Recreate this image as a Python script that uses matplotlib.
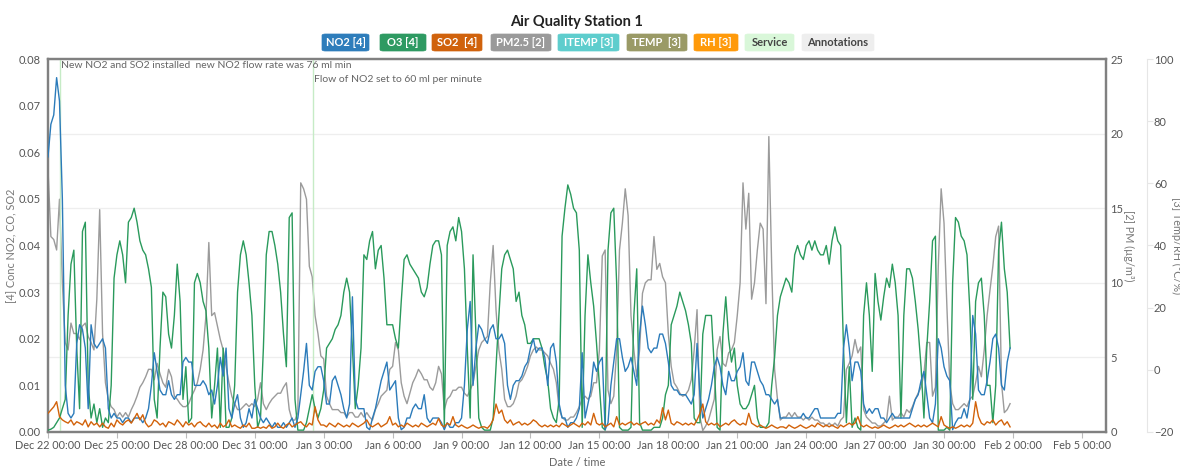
import numpy as np
import pandas as pd
import matplotlib
matplotlib.use('Agg')
import matplotlib.pyplot as plt
import matplotlib.dates as mdates
from matplotlib.patches import FancyBboxPatch

plt.rcParams['font.family'] = ['Lato', 'DejaVu Sans']

# 3-hourly readings from Dec 22 00:00, one row per day
no2_ppb = [
    59, 66, 68, 76, 71, 50, 10, 4,
    3, 4, 19, 23, 22, 18, 5, 23,
    19, 18, 19, 20, 18, 5, 3, 4,
    3, 3, 2, 3, 3, 2, 3, 3,
    3, 2, 3, 5, 10, 17, 13, 9,
    8, 8, 11, 8, 7, 8, 8, 15,
    16, 15, 15, 10, 10, 10, 11, 10,
    8, 9, 6, 10, 16, 12, 18, 5,
    3, 6, 8, 3, 1, 2, 5, 3,
    7, 5, 3, 2, 3, 2, 1, 2,
    1, 1, 2, 1, 2, 3, 1, 3,
    8, 13, 19, 10, 9, 13, 14, 14,
    11, 6, 6, 11, 12, 10, 8, 5,
    3, 6, 29, 7, 5, 5, 5, 1,
    0.5, 3, 5, 8, 11, 13, 15, 9,
    10, 11, 3, 0.5, 1, 3, 3, 5,
    6, 5, 5, 8, 3, 2, 3, 3,
    3, 2, 0.5, 2, 1, 1, 2, 2,
    3, 10, 22, 28, 10, 18, 23, 22,
    20, 19, 22, 23, 20, 20, 21, 19,
    10, 7, 10, 11, 11, 12, 14, 15,
    18, 20, 17, 18, 18, 16, 10, 18,
    19, 15, 6, 3, 3, 1, 2, 2,
    3, 5, 17, 3, 6, 9, 15, 13,
    15, 16, 0.5, 2, 10, 15, 20, 20,
    16, 13, 14, 16, 13, 10, 21, 27,
    23, 18, 17, 18, 18, 21, 21, 19,
    15, 10, 9, 9, 8, 8, 8, 7,
    6, 8, 19, 8, 3, 5, 7, 10,
    14, 16, 14, 10, 8, 13, 11, 11,
    13, 14, 17, 11, 10, 15, 15, 13,
    11, 10, 8, 8, 7, 6, 7, 3,
    3, 3, 3, 3, 3, 3, 3, 4,
    3, 3, 4, 5, 5, 3, 3, 3,
    3, 3, 3, 4, 4, 18, 23, 18,
    11, 15, 15, 13, 6, 4, 5, 4,
    5, 5, 3, 3, 2, 3, 4, 3,
    3, 3, 3, 3, 3, 5, 7, 8,
    11, 13, 8, 3, 2, 6, 20, 18,
    14, 12, 11, 0.5, 2, 3, 3, 5,
    3, 7, 25, 21, 9, 8, 8, 11,
    15, 20, 21, 18, 10, 9, 15, 18,
]

o3_ppb = [
    0.4, 0.6, 1, 2, 3, 5, 7, 25,
    36, 39, 18, 5, 43, 45, 10, 3,
    6, 2, 5, 1, 3, 2, 10, 33,
    38, 41, 38, 32, 45, 46, 48, 45,
    41, 39, 38, 35, 31, 7, 3, 18,
    30, 29, 21, 18, 25, 36, 28, 7,
    14, 2, 3, 32, 34, 32, 28, 26,
    18, 3, 10, 18, 1, 18, 1, 1,
    3, 10, 30, 38, 41, 38, 32, 25,
    10, 1, 3, 18, 38, 43, 43, 40,
    36, 30, 21, 14, 46, 47, 7, 0.4,
    0.4, 0.4, 2, 5, 8, 5, 3, 5,
    9, 18, 19, 20, 22, 23, 25, 30,
    33, 30, 18, 5, 10, 18, 38, 37,
    41, 43, 35, 39, 40, 33, 23, 23,
    23, 20, 18, 28, 37, 38, 36, 35,
    34, 33, 30, 29, 31, 36, 40, 41,
    41, 38, 1, 40, 43, 44, 41, 46,
    43, 35, 18, 3, 38, 21, 3, 1,
    0.4, 0.4, 0.4, 3, 14, 25, 35, 38,
    39, 37, 35, 28, 30, 25, 23, 19,
    19, 20, 20, 20, 18, 14, 11, 5,
    3, 2, 7, 42, 48, 53, 51, 48,
    47, 39, 1, 25, 38, 32, 27, 19,
    10, 1, 0.4, 39, 47, 48, 32, 1,
    0.4, 0.4, 0.4, 1, 25, 35, 2, 0.4,
    0.4, 0.4, 0.4, 1, 1, 1, 3, 8,
    10, 23, 25, 27, 30, 28, 26, 23,
    19, 3, 2, 2, 21, 25, 25, 25,
    14, 1, 0.4, 21, 29, 20, 15, 18,
    10, 6, 5, 5, 6, 8, 10, 3,
    1, 1, 1, 2, 10, 16, 25, 29,
    31, 33, 32, 30, 38, 40, 38, 37,
    40, 41, 39, 41, 39, 38, 38, 40,
    36, 41, 44, 41, 40, 18, 2, 14,
    1, 3, 1, 0.4, 25, 32, 25, 13,
    34, 28, 24, 29, 33, 31, 36, 32,
    25, 3, 25, 35, 35, 33, 28, 22,
    14, 3, 18, 28, 41, 42, 0.4, 0.4,
    0.4, 1, 0.4, 32, 46, 45, 42, 41,
    38, 26, 7, 28, 32, 33, 25, 10,
    10, 2, 10, 39, 45, 35, 30, 18,
]

so2_ppb = [
    4.0, 4.7, 5.4, 6.5, 3.3, 2.6, 2.2, 1.9,
    2.6, 1.5, 2.2, 1.9, 1.5, 2.6, 1.1, 2.2,
    1.5, 1.9, 1.1, 1.9, 1.1, 0.8, 1.9, 1.1,
    2.6, 1.9, 1.5, 2.2, 2.6, 1.9, 2.9, 4.0,
    2.6, 3.7, 1.9, 1.1, 1.5, 2.6, 2.2, 1.5,
    1.9, 1.1, 2.2, 1.9, 1.5, 2.6, 1.9, 1.1,
    2.2, 1.5, 1.9, 1.1, 1.9, 2.2, 1.5, 1.1,
    1.9, 1.1, 1.5, 0.8, 1.9, 1.1, 1.5, 2.6,
    1.1, 1.5, 1.1, 0.8, 1.5, 1.1, 1.9, 0.8,
    0.8, 1.1, 0.8, 1.1, 0.8, 1.5, 0.8, 1.1,
    1.9, 1.1, 0.8, 1.5, 1.9, 1.1, 1.5, 1.9,
    2.2, 1.5, 1.1, 1.9, 1.5, 5.4, 2.6, 1.5,
    1.5, 1.1, 1.9, 1.5, 1.1, 1.9, 1.5, 1.1,
    1.5, 1.1, 1.9, 1.5, 1.1, 1.5, 1.9, 2.6,
    1.5, 1.1, 1.5, 1.9, 1.1, 1.5, 1.9, 3.3,
    1.5, 1.9, 1.1, 1.5, 1.1, 1.9, 1.5, 1.1,
    1.5, 1.1, 1.9, 1.5, 1.1, 1.5, 1.9, 1.5,
    2.9, 1.5, 1.1, 1.9, 1.5, 3.3, 1.5, 1.1,
    1.5, 1.1, 0.8, 1.1, 1.5, 1.1, 0.8, 1.1,
    1.1, 0.8, 1.5, 2.6, 6.0, 4.0, 4.7, 2.6,
    1.9, 2.6, 1.5, 1.9, 2.2, 1.5, 1.9, 1.5,
    1.9, 2.6, 2.2, 1.5, 1.1, 1.5, 1.1, 1.5,
    1.1, 1.5, 1.1, 1.9, 1.5, 1.1, 1.5, 1.9,
    1.5, 1.1, 1.9, 1.5, 2.2, 1.5, 4.0, 1.9,
    1.5, 1.9, 1.1, 1.5, 1.9, 1.1, 3.3, 1.5,
    1.9, 1.5, 1.9, 2.2, 1.5, 1.9, 1.5, 1.9,
    2.2, 1.5, 1.9, 1.5, 2.6, 1.9, 5.2, 2.6,
    4.7, 1.9, 1.5, 2.2, 1.9, 1.5, 1.9, 1.5,
    1.9, 1.5, 2.6, 4.0, 6.0, 2.2, 1.5, 1.9,
    1.5, 1.9, 1.1, 1.5, 1.9, 1.5, 2.2, 2.6,
    1.9, 1.5, 1.9, 1.5, 4.0, 1.9, 1.5, 1.1,
    1.5, 1.1, 0.8, 1.1, 1.5, 1.1, 0.8, 1.1,
    1.1, 0.8, 1.5, 1.1, 0.8, 1.1, 1.5, 1.1,
    0.8, 1.1, 1.5, 1.1, 1.9, 1.5, 1.1, 1.5,
    1.1, 1.5, 1.1, 0.8, 1.5, 1.1, 1.5, 1.9,
    1.5, 1.9, 3.3, 1.5, 1.1, 1.5, 1.1, 0.8,
    1.1, 0.8, 1.1, 1.5, 1.1, 0.8, 1.1, 1.5,
    1.1, 1.5, 1.1, 1.5, 1.9, 1.5, 1.1, 1.5,
    1.1, 1.5, 1.1, 1.5, 1.9, 1.5, 1.1, 3.3,
    1.5, 1.1, 0.8, 1.1, 0.8, 1.1, 1.5, 1.1,
    1.5, 1.1, 1.9, 6.5, 3.3, 1.9, 1.5, 2.2,
    1.9, 2.6, 1.5, 2.2, 2.6, 1.5, 2.2, 1.1,
]

pm25 = [
    17.6, 13.1, 12.9, 12.2, 15.6, 10.0, 6.0, 5.5,
    7.3, 6.6, 6.6, 6.2, 7.1, 7.3, 6.4, 6.0,
    5.5, 8.9, 14.9, 6.6, 3.3, 2.2, 1.7, 1.5,
    1.0, 1.3, 1.0, 1.3, 1.0, 1.5, 1.9, 2.4,
    3.0, 3.3, 3.7, 4.2, 4.2, 3.5, 4.6, 3.9,
    3.3, 3.0, 4.2, 3.7, 2.4, 2.2, 1.9, 1.7,
    1.7, 1.9, 2.4, 2.8, 3.3, 4.2, 5.5, 7.8,
    12.7, 7.8, 8.0, 7.1, 6.2, 5.5, 4.4, 3.3,
    2.4, 1.9, 1.5, 1.5, 1.7, 1.9, 1.7, 1.9,
    1.7, 2.2, 3.3, 1.9, 1.5, 1.9, 2.2, 2.4,
    2.6, 2.6, 3.0, 3.3, 1.5, 0.8, 0.8, 1.3,
    16.7, 16.3, 15.6, 11.1, 10.4, 7.8, 6.6, 5.1,
    4.9, 2.4, 1.9, 1.5, 1.5, 1.5, 1.3, 1.3,
    1.0, 1.3, 1.3, 1.0, 1.0, 1.3, 1.0, 1.3,
    1.0, 0.8, 1.5, 1.9, 2.4, 2.6, 2.8, 4.2,
    4.4, 6.0, 5.5, 3.3, 2.4, 1.9, 2.6, 3.3,
    3.7, 4.2, 3.9, 3.5, 3.5, 3.0, 2.8, 3.3,
    4.4, 3.9, 1.5, 2.2, 2.4, 2.8, 2.8, 3.0,
    3.0, 2.6, 2.4, 2.8, 3.3, 4.4, 5.5, 6.0,
    6.2, 6.4, 10.0, 12.5, 8.2, 5.5, 4.2, 2.2,
    1.7, 1.7, 1.9, 2.4, 3.3, 3.5, 3.9, 4.4,
    5.1, 5.5, 5.7, 5.5, 5.5, 5.3, 5.1, 4.6,
    4.2, 3.3, 1.5, 1.0, 0.8, 0.8, 1.0, 1.0,
    1.3, 1.7, 2.2, 2.4, 2.2, 2.4, 3.3, 3.3,
    5.5, 11.8, 12.2, 2.8, 1.9, 2.4, 5.5, 12.2,
    14.0, 16.3, 14.5, 7.8, 5.5, 3.7, 5.5, 9.3,
    10.0, 10.2, 10.2, 13.1, 10.9, 11.3, 10.4, 10.0,
    6.6, 4.4, 3.3, 3.0, 2.6, 2.4, 2.5, 2.8,
    3.5, 5.5, 8.2, 1.0, 0.1, 0.4, 0.8, 1.5,
    2.2, 5.5, 6.4, 4.6, 4.4, 5.3, 5.5, 6.0,
    7.8, 10.0, 16.7, 13.6, 16.0, 8.9, 10.0, 12.2,
    14.0, 13.6, 8.6, 19.8, 11.0, 4.2, 2.2, 0.8,
    1.0, 1.0, 1.3, 1.0, 1.3, 1.0, 1.0, 0.8,
    1.0, 0.8, 1.0, 0.8, 0.8, 0.6, 0.6, 0.4,
    0.6, 0.4, 0.6, 0.4, 0.8, 1.0, 4.2, 4.6,
    5.1, 6.2, 5.3, 5.7, 1.5, 1.0, 0.8, 0.6,
    0.6, 0.4, 0.4, 0.6, 0.8, 2.4, 0.8, 1.0,
    1.0, 1.3, 1.0, 1.5, 1.3, 1.7, 2.2, 2.6,
    3.0, 3.9, 6.0, 6.0, 2.4, 3.0, 11.1, 16.3,
    14.0, 8.4, 3.3, 1.9, 1.5, 1.5, 1.7, 1.9,
    1.7, 2.2, 2.4, 3.3, 4.4, 3.7, 5.5, 7.8,
    9.5, 11.1, 13.1, 13.8, 3.3, 1.3, 1.5, 1.9,
]

start = pd.Timestamp('2020-12-22 00:00')
service_times = [pd.Timestamp('2020-12-22 13:00'), pd.Timestamp('2021-01-02 13:00')]
service_notes = ['New NO2 and SO2 installed  new NO2 flow rate was 76 ml min',
                 'Flow of NO2 set to 60 ml per minute']

buttons = ['NO2 [4]', 'O3 [4]', 'SO2  [4]', 'PM2.5 [2]', 'ITEMP [3]', 'TEMP  [3]', 'RH [3]', 'Service', 'Annotations']
button_colors = ['#2e7dbb', '#2e9a62', '#d0620c', '#9a9a9a', '#5ecdcd', '#9a9a66', '#ff9a0a', '#d9f7d9', '#eeeeee']
button_text = ['white'] * 7 + ['#444444', '#444444']

c_no2, c_o3, c_so2, c_pm = '#2b7bba', '#2a9a5c', '#d2620a', '#9b9b9b'


def times_of(vals):
    return start + pd.to_timedelta(np.arange(len(vals)) * 3, unit='h')


fig = plt.figure(figsize=(11.8, 4.67), dpi=100)
ax = fig.add_axes([48 / 1180, 35 / 467, 1058 / 1180, 373 / 467])
ax2 = ax.twinx()
ax3 = ax.twinx()

# PM axis and its grid sit underneath
ax.set_zorder(ax2.get_zorder() + 1)
ax.patch.set_visible(False)

ax2.plot(times_of(pm25), pm25, color=c_pm, lw=1.0)
ax2.set_ylim(0, 25)
ax2.set_yticks(np.arange(0, 26, 5))
ax2.yaxis.grid(True, color='#eeeeee', lw=0.9)

for t in service_times:
    ax.axvline(t, color='#c6ebc6', lw=1.0, zorder=1)
ax.text(service_times[0] + pd.Timedelta(hours=1), 0.0785, service_notes[0],
        fontsize=7.5, color='#666666', va='center', ha='left')
ax.text(service_times[1] + pd.Timedelta(hours=1), 0.0756, service_notes[1],
        fontsize=7.5, color='#666666', va='center', ha='left')

ax.plot(times_of(o3_ppb), np.array(o3_ppb) / 1000, color=c_o3, lw=1.0, zorder=3)
ax.plot(times_of(no2_ppb), np.array(no2_ppb) / 1000, color=c_no2, lw=1.0, zorder=4)
ax.plot(times_of(so2_ppb), np.array(so2_ppb) / 1000, color=c_so2, lw=1.0, zorder=5)

ax.set_ylim(0, 0.08)
ax.set_yticks(np.arange(0, 0.081, 0.01))
ax.yaxis.set_major_formatter(plt.FormatStrFormatter('%.2f'))
ax.set_xlim(start, start + pd.Timedelta(days=46.05))
ax.set_xticks(pd.date_range(start, periods=16, freq='3D'))
ax.xaxis.set_major_formatter(mdates.DateFormatter('%b %-d %H:%M'))

grey = '#555555'
ax.tick_params(axis='y', length=0, pad=5, labelsize=8, labelcolor=grey)
ax.tick_params(axis='x', length=4, width=0.8, color='#bbbbbb', pad=2, labelsize=7.8, labelcolor=grey)
ax2.tick_params(axis='y', length=0, pad=3, labelsize=8, labelcolor=grey)

for a in (ax, ax2):
    for s in a.spines.values():
        s.set_color('#808080')
        s.set_linewidth(1.6)

ax3.set_ylim(-20, 100)
ax3.set_yticks(np.arange(-20, 101, 20))
ax3.spines['right'].set_position(('axes', 1.0388))
ax3.spines['right'].set_color('#e6e6e6')
for k in ('top', 'bottom', 'left'):
    ax3.spines[k].set_visible(False)
ax3.tick_params(axis='y', length=4, color='#e6e6e6', pad=1, labelsize=8, labelcolor=grey)

ax.set_ylabel('[4] Conc NO2, CO, SO2', fontsize=7.8, color='#777777', labelpad=1)
ax2.set_ylabel('[2] PM (µg/m³)', fontsize=7.8, color='#777777', rotation=-90, labelpad=8)
ax3.set_ylabel('[3] Temp/RH (°C/%)', fontsize=7.8, color='#777777', rotation=-90, labelpad=6)
ax.set_xlabel('Date / time', fontsize=8, color='#666666', labelpad=4)

fig.text(577 / 1180, 1 - 22 / 467, 'Air Quality Station 1', ha='center', va='center',
         fontsize=10.5, fontweight='bold', color='#222222')

edges = [(322, 369), (380, 426), (432, 482), (491, 551), (558, 619), (627, 687), (694, 738), (745, 794), (802, 874)]
for (x0, x1), lab, fc, tc in zip(edges, buttons, button_colors, button_text):
    box = FancyBboxPatch((x0 / 1180, 1 - 51 / 467), (x1 - x0) / 1180, 17 / 467,
                         boxstyle='round,pad=0,rounding_size=0.003', transform=fig.transFigure,
                         fc=fc, ec=fc, lw=0.5)
    fig.patches.append(box)
    fig.text((x0 + x1) / 2 / 1180, 1 - 42.5 / 467, lab, ha='center', va='center',
             fontsize=8, fontweight='bold', color=tc)

fig.savefig('out.png', dpi=100)
